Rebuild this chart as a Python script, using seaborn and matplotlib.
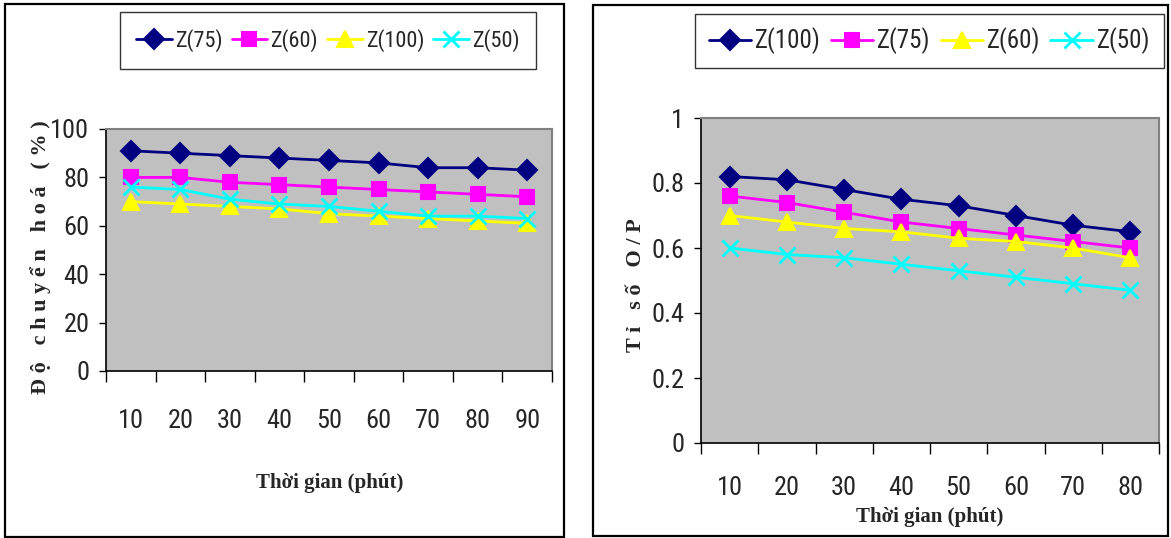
import matplotlib
matplotlib.use('Agg')
import matplotlib.pyplot as plt
import seaborn as sns
from matplotlib import font_manager as fm
from matplotlib.patches import Rectangle
from matplotlib.ticker import FixedLocator, NullFormatter

# ---------------- data ----------------
times_left = ['10', '20', '30', '40', '50', '60', '70', '80', '90']
left_names = ['Z(75)', 'Z(60)', 'Z(100)', 'Z(50)']
left_z75 = [91, 90, 89, 88, 87, 86, 84, 84, 83]
left_z60 = [80, 80, 78, 77, 76, 75, 74, 73, 72]
left_z100 = [70, 69, 68, 67, 65, 64, 63, 62, 61]
left_z50 = [76, 75, 71, 69, 68, 66, 64, 64, 63]
left_yticks = [0, 20, 40, 60, 80, 100]

times_right = ['10', '20', '30', '40', '50', '60', '70', '80']
right_names = ['Z(100)', 'Z(75)', 'Z(60)', 'Z(50)']
right_z100 = [0.82, 0.81, 0.78, 0.75, 0.73, 0.70, 0.67, 0.65]
right_z75 = [0.76, 0.74, 0.71, 0.68, 0.66, 0.64, 0.62, 0.60]
right_z60 = [0.70, 0.68, 0.66, 0.65, 0.63, 0.62, 0.60, 0.57]
right_z50 = [0.60, 0.58, 0.57, 0.55, 0.53, 0.51, 0.49, 0.47]
right_yticks = [0, 0.2, 0.4, 0.6, 0.8, 1]
right_yticklabels = ['0', '0.2', '0.4', '0.6', '0.8', '1']

# ---------------- fonts ----------------
sns.set_theme(style='white')
avail = {f.name for f in fm.fontManager.ttflist}
narrow = None
stretch = 'normal'
for cand in ['Liberation Sans Narrow', 'Arial Narrow', 'DejaVu Sans Condensed',
             'Roboto Condensed', 'Open Sans Condensed', 'Noto Sans Condensed']:
    if cand in avail:
        narrow = cand
        break
if narrow is None:
    for f in fm.fontManager.ttflist:
        if f.name in ('DejaVu Sans', 'Roboto', 'Open Sans', 'Noto Sans') and \
                f.stretch in ('condensed', 'semi-condensed', 'extra-condensed', 'narrow'):
            narrow, stretch = f.name, f.stretch
            break
if narrow is None:
    family = ['Liberation Sans', 'DejaVu Sans']
    SCALE = 0.8
else:
    family = [narrow, 'Liberation Sans', 'DejaVu Sans']
    SCALE = 1.0
plt.rcParams['font.family'] = family
plt.rcParams['font.stretch'] = stretch
TICK_FS = 19 * SCALE

styles = [
    dict(color='#000080', marker='D', markersize=10),
    dict(color='#FF00FF', marker='s', markersize=10),
    dict(color='#FFFF00', marker='^', markersize=11),
    dict(color='#00FFFF', marker='x', markersize=11, markeredgewidth=2),
]
SERIF = ['Liberation Serif', 'DejaVu Serif']
W, H = 1171, 538
fig = plt.figure(figsize=(W / 100, H / 100), dpi=100)
fig.patch.set_facecolor('white')


def px_rect(x0, y0, x1, y1):
    return [x0 / W, 1 - y1 / H, (x1 - x0) / W, (y1 - y0) / H]


# panel frames
for (x0, y0, x1, y1) in [(5, 4, 564, 537), (593, 5, 1168, 536)]:
    r = px_rect(x0, y0, x1, y1)
    fig.patches.append(Rectangle((r[0], r[1]), r[2], r[3], transform=fig.transFigure,
                                 fill=False, edgecolor='black', linewidth=1.6, zorder=0))


def draw_panel(rect, cats, series, names, yticks, yticklabels, ylim, ylabel,
               xlabel_xy, ylabel_xy, legend_box, leg_fs, leg_hl, leg_bp,
               label_pad, ylabel_fs):
    ax = fig.add_axes(rect)
    ax.set_facecolor('#C0C0C0')
    for vals, name, st in zip(series, names, styles):
        sns.pointplot(x=cats, y=vals, ax=ax, errorbar=None, linewidth=2,
                      label=name, markeredgecolor=st['color'], **st)
    if ax.legend_ is not None:
        ax.legend_.remove()
    n = len(cats)
    ax.set_xlim(-0.5, n - 0.5)
    ax.set_ylim(*ylim)
    ax.grid(False)
    ax.set_xlabel('')
    ax.set_ylabel('')
    # category ticks: labels centred, tick marks at boundaries
    ax.xaxis.set_major_locator(FixedLocator(list(range(n))))
    ax.set_xticklabels(cats)
    ax.xaxis.set_minor_locator(FixedLocator([i - 0.5 for i in range(n + 1)]))
    ax.xaxis.set_minor_formatter(NullFormatter())
    ax.tick_params(axis='x', which='major', length=0, pad=label_pad, labelsize=TICK_FS)
    ax.tick_params(axis='x', which='minor', length=8, width=1, color='black',
                   direction='out', bottom=True)
    ax.set_yticks(yticks)
    ax.set_yticklabels(yticklabels)
    ax.tick_params(axis='y', length=5, width=1, color='black', direction='out',
                   left=True, pad=7, labelsize=TICK_FS)
    for s in ['left', 'bottom']:
        ax.spines[s].set_color('black')
        ax.spines[s].set_linewidth(1.2)
    for s in ['top', 'right']:
        ax.spines[s].set_color('#808080')
        ax.spines[s].set_linewidth(1.5)
    fig.text(xlabel_xy[0] / W, 1 - xlabel_xy[1] / H, 'Thời gian (phút)', family=SERIF,
             fontweight='bold', fontsize=15, ha='center', va='center')
    fig.text(ylabel_xy[0] / W, 1 - ylabel_xy[1] / H, ylabel, family=SERIF,
             fontweight='bold', fontsize=ylabel_fs, ha='center', va='center', rotation=90)
    handles, labels = ax.get_legend_handles_labels()
    x0, y0, x1, y1 = legend_box
    fig.legend(handles, labels, loc='center',
               bbox_to_anchor=((x0 + x1) / 2 / W, 1 - (y0 + y1) / 2 / H),
               bbox_transform=fig.transFigure, ncol=4, frameon=True, fancybox=False,
               edgecolor='black', fontsize=leg_fs * SCALE, handlelength=leg_hl,
               handletextpad=0.15, columnspacing=0.4, borderpad=leg_bp, borderaxespad=0)
    return ax


draw_panel(px_rect(106, 129, 552, 371), times_left,
           [left_z75, left_z60, left_z100, left_z50], left_names,
           left_yticks, [str(v) for v in left_yticks], (0, 100),
           'Đ ộ   c h u y ể n   h o á   ( % )',
           (330, 483), (41, 257), (123, 11, 533, 70), 16, 1.6, 0.75, 27, 16)

draw_panel(px_rect(701, 118, 1159, 443), times_right,
           [right_z100, right_z75, right_z60, right_z50], right_names,
           right_yticks, right_yticklabels, (0, 1),
           'T ỉ   s ố   O / P',
           (930, 517), (636, 285), (693, 13, 1166, 69), 18, 1.7, 0.55, 24, 16)

fig.savefig('out.png', dpi=100, facecolor='white')
